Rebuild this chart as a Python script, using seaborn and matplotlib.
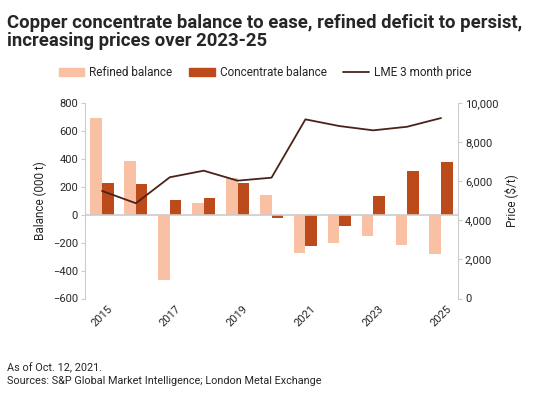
import numpy as np
import pandas as pd
import seaborn as sns
import matplotlib.pyplot as plt
from matplotlib.patches import Patch
from matplotlib.lines import Line2D

# dane
years = ['2015', '2016', '2017', '2018', '2019', '2020', '2021', '2022', '2023', '2024', '2025']
refined = [690, 384, -467, 82, 260, 141, -272, -200, -150, -217, -281]
concentrate = [227, 222, 107, 117, 225, -26, -222, -83, 132, 313, 375]
price = [5504, 4875, 6204, 6541, 6030, 6183, 9167, 8825, 8605, 8789, 9234]

c_ref = '#F9C0A3'
c_con = '#BD4A1A'
c_line = '#4A2318'

sns.set_style('white')
plt.rcParams['font.family'] = ['Roboto', 'DejaVu Sans']

df = pd.DataFrame({
    'year': years * 2,
    'value': refined + concentrate,
    'series': ['Refined balance'] * len(years) + ['Concentrate balance'] * len(years),
})

fig = plt.figure(figsize=(5.35, 3.98), dpi=100)
ax = fig.add_axes([0.159, 0.25, 0.697, 0.491])

sns.barplot(data=df, x='year', y='value', hue='series', palette=[c_ref, c_con],
            saturation=1, width=0.68, gap=0, ax=ax, legend=False, linewidth=0)
ax.axhline(0, color='#cccccc', lw=1.2, zorder=1)
ax.set_ylim(-600, 800)
ax.set_yticks(range(-600, 801, 200))
ax.set_xlim(-0.5, len(years) - 0.5)
ax.set_xlabel('')
ax.set_ylabel('Balance (000 t)', fontsize=8.5, labelpad=4)
ax.set_xticks(range(0, len(years), 2))
ax.set_xticklabels(years[::2], rotation=45, fontsize=8)
ax.tick_params(axis='y', labelsize=8, length=3, color='#cccccc', pad=2)
ax.tick_params(axis='x', length=3, color='#cccccc', pad=1)
for s in ['top', 'right', 'bottom']:
    ax.spines[s].set_visible(False)
ax.spines['left'].set_color('#cccccc')

ax2 = ax.twinx()
sns.lineplot(x=np.arange(len(years)), y=price, color=c_line, lw=1.3, ax=ax2)
ax2.set_ylim(0, 10000)
ax2.set_yticks(range(0, 10001, 2000))
ax2.set_yticklabels([f'{v:,}' for v in range(0, 10001, 2000)])
ax2.set_ylabel('Price ($/t)', fontsize=8.5, labelpad=4)
ax2.tick_params(axis='y', labelsize=8, length=3, color='#cccccc', pad=2)
for s in ['top', 'left', 'bottom']:
    ax2.spines[s].set_visible(False)
ax2.spines['right'].set_color('#cccccc')

handles = [Patch(color=c_ref, label='Refined balance'),
           Patch(color=c_con, label='Concentrate balance'),
           Line2D([], [], color=c_line, lw=1.3, label='LME 3 month price')]
fig.legend(handles=handles, loc='center', bbox_to_anchor=(0.495, 0.818), ncol=3,
           frameon=False, fontsize=8.5, handlelength=2.2, handleheight=0.6,
           columnspacing=1.4, handletextpad=0.4)

fig.text(0.013, 0.965, 'Copper concentrate balance to ease, refined deficit to persist,\nincreasing prices over 2023-25',
         fontsize=13.3, fontweight='bold', va='top', ha='left', linespacing=1.0)
fig.text(0.013, 0.075, 'As of Oct. 12, 2021.', fontsize=7.8, va='center')
fig.text(0.013, 0.042, 'Sources: S&P Global Market Intelligence; London Metal Exchange', fontsize=7.8, va='center')

fig.savefig('out.png', dpi=100)
